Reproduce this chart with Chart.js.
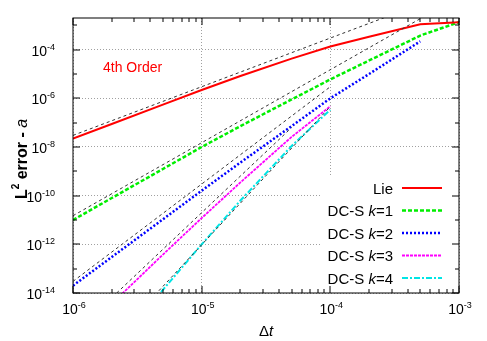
<!DOCTYPE html>
<html><head><meta charset="utf-8">
<script src="https://cdn.jsdelivr.net/npm/chart.js@4/dist/chart.umd.min.js"></script>
<style>html,body{margin:0;padding:0;background:#fff;overflow:hidden}canvas{display:block}</style>
</head><body>
<canvas id="c" width="487" height="341"></canvas>
<script>
// ---- data ----
const dt   = [1e-6, 2e-6, 5e-6, 1e-5, 2e-5, 5e-5, 1e-4, 2e-4, 5e-4, 1e-3];
const lie  = [2.2e-8, 8.8e-8, 5.5e-7, 2.2e-6, 8.3e-6, 4.3e-5, 1.35e-4, 3.4e-4, 1.1e-3, 1.35e-3];
const dcs1 = [1e-11, 8e-11, 1.25e-9, 1e-8, 7.2e-8, 9e-7, 6e-6, 3.6e-5, 3.8e-4, 1.35e-3];
const dcs2 = [2e-14, 3e-13, 1.07e-11, 1.6e-10, 2.3e-9, 7.2e-8, 1e-6, 1e-5, 2.2e-4, null];
const dcs3 = [1.1e-16, 3.6e-15, 3.8e-13, 1.2e-11, 3.5e-10, 2.6e-8, 4.7e-7, null, null, null];
const dcs4 = [1e-18, 6e-17, 1.35e-14, 1e-12, 6.3e-11, 1.1e-8, 3.4e-7, null, null, null];

// reference (order) lines: end points
const ref2X = [1e-6, 1e-3],  ref2Y = [3e-8, 3e-2];
const ref3X = [1e-6, 1e-3],  ref3Y = [1.5e-11, 1.5e-2];
const ref4X = [1e-6, 1e-4],  ref4Y = [3e-14, 3e-6];
const ref5X = [1e-6, 5e-5],  ref5Y = [2e-16, 6.25e-8];
const ref6X = [1e-6, 1e-4],  ref6Y = [2e-18, 4.6e-7];

const seriesNames = ['Lie', 'DC-S k=1', 'DC-S k=2', 'DC-S k=3', 'DC-S k=4'];
const xTicks = [1e-6, 1e-5, 1e-4, 1e-3];
const xTickExp = ['-6', '-5', '-4', '-3'];
const yTicks = [1e-14, 1e-12, 1e-10, 1e-8, 1e-6, 1e-4];
const yTickExp = ['-14', '-12', '-10', '-8', '-6', '-4'];
const yMinorTicks = [1e-13, 1e-11, 1e-9, 1e-7, 1e-5, 1e-3];
const xRange = [1e-6, 1e-3];
const yRange = [1e-14, 2e-3];

// ---- styles ----
const styles = [
  {color:'#ff0000', dash:[], width:2},
  {color:'#00ee00', dash:[4,2], width:2.5},
  {color:'#0000ff', dash:[2,2], width:2.5},
  {color:'#ff00ff', dash:[3,1], width:1.8},
  {color:'#00e5e5', dash:[6,2,2,2], width:2}
];
const FONT = '"Liberation Sans", Arial, Helvetica, sans-serif';

function pts(xs, ys){ return xs.map((x,i)=>({x:x, y:ys[i]})).filter(p=>p.y!=null); }
const seriesData = [lie, dcs1, dcs2, dcs3, dcs4];
const refs = [[ref2X,ref2Y],[ref3X,ref3Y],[ref4X,ref4Y],[ref5X,ref5Y],[ref6X,ref6Y]];

const datasets = [];
refs.forEach(r => datasets.push({
  data: pts(r[0], r[1]), borderColor:'#333', borderWidth:1, borderDash:[3,3],
  pointRadius:0, fill:false, tension:0
}));
seriesData.forEach((s,i) => datasets.push({
  label: seriesNames[i], data: pts(dt, s), borderColor: styles[i].color,
  borderWidth: styles[i].width, borderDash: styles[i].dash,
  pointRadius:0, fill:false, tension:0
}));

function powLabel(ctx, exp, x, y, align){
  const bf = '14px ' + FONT, ef = '9px ' + FONT;
  ctx.font = bf; const wb = ctx.measureText('10').width;
  ctx.font = ef; const we = ctx.measureText(exp).width;
  const x0 = align === 'right' ? x - wb - we : x - (wb + we) / 2;
  ctx.textAlign = 'left'; ctx.textBaseline = 'alphabetic'; ctx.fillStyle = '#000';
  ctx.font = bf; ctx.fillText('10', x0, y);
  ctx.font = ef; ctx.fillText(exp, x0 + wb, y - 6);
}
function richText(ctx, parts, x, y, align){
  let total = 0;
  parts.forEach(p => { ctx.font = p.f; p.w = ctx.measureText(p.t).width; total += p.w; });
  let cx = align === 'right' ? x - total : (align === 'center' ? x - total/2 : x);
  ctx.textAlign = 'left';
  parts.forEach(p => { ctx.font = p.f; ctx.fillText(p.t, cx, y + (p.dy||0)); cx += p.w; });
}

const gp = {
  id: 'gp',
  beforeDatasetsDraw(chart){
    const ctx = chart.ctx, a = chart.chartArea;
    ctx.save(); ctx.fillStyle = '#fff';
    ctx.fillRect(a.right - 137, 177, 136, a.bottom - 178);
    ctx.restore();
  },
  afterDatasetsDraw(chart){
    const ctx = chart.ctx, a = chart.chartArea, xs = chart.scales.x, ys = chart.scales.y;
    ctx.save();
    ctx.strokeStyle = '#000'; ctx.lineWidth = 1; ctx.setLineDash([]);
    ctx.beginPath();
    const tick = (x1,y1,x2,y2) => { ctx.moveTo(x1,y1); ctx.lineTo(x2,y2); };
    xTicks.forEach(v => { const p = Math.round(xs.getPixelForValue(v));
      tick(p, a.bottom, p, a.bottom - 7); tick(p, a.top, p, a.top + 7); });
    for (let d = 0; d < xTicks.length - 1; d++) for (let m = 2; m <= 9; m++) {
      const p = Math.round(xs.getPixelForValue(xTicks[d] * m));
      tick(p, a.bottom, p, a.bottom - 4); tick(p, a.top, p, a.top + 4);
    }
    yTicks.forEach(v => { const p = Math.round(ys.getPixelForValue(v));
      tick(a.left, p, a.left + 7, p); tick(a.right, p, a.right - 7, p); });
    yMinorTicks.forEach(v => { const p = Math.round(ys.getPixelForValue(v));
      tick(a.left, p, a.left + 4, p); tick(a.right, p, a.right - 4, p); });
    ctx.stroke();
    ctx.strokeRect(Math.round(a.left), Math.round(a.top), Math.round(a.right - a.left), Math.round(a.bottom - a.top));
    ctx.restore();
  },
  afterDraw(chart){
    const ctx = chart.ctx, a = chart.chartArea, xs = chart.scales.x, ys = chart.scales.y;
    ctx.save();
    ctx.fillStyle = '#000';
    xTicks.forEach((v,i) => powLabel(ctx, xTickExp[i], xs.getPixelForValue(v) + 1, a.bottom + 21, 'center'));
    yTicks.forEach((v,i) => powLabel(ctx, yTickExp[i], 55, ys.getPixelForValue(v) + 6, 'right'));
    ctx.fillStyle = '#000';
    richText(ctx, [{t:'\u0394', f:'15px ' + FONT}, {t:'t', f:'italic 15px ' + FONT}], 266, 336, 'center');
    ctx.save(); ctx.translate(27, 159); ctx.rotate(-Math.PI/2);
    richText(ctx, [{t:'L', f:'bold 16px ' + FONT}, {t:'2', f:'bold 10px ' + FONT, dy:-8},
      {t:' error - ', f:'bold 16px ' + FONT}, {t:'a', f:'italic 16px ' + FONT}], 0, 0, 'center');
    ctx.restore();
    ctx.fillStyle = '#ff0000'; ctx.font = '14px ' + FONT; ctx.textAlign = 'left';
    ctx.fillText('4th Order', 103, 72);
    const rows = [188, 210.5, 233, 255.5, 278];
    seriesNames.forEach((name, i) => {
      const y = rows[i];
      ctx.fillStyle = '#000';
      let parts;
      if (name.indexOf(' k=') >= 0) {
        const [pre, post] = name.split(' k');
        parts = [{t: pre + ' ', f:'15px ' + FONT}, {t:'k', f:'italic 15px ' + FONT}, {t: post, f:'15px ' + FONT}];
      } else parts = [{t:name, f:'15px ' + FONT}];
      richText(ctx, parts, 393, y + 5.5, 'right');
      ctx.strokeStyle = styles[i].color; ctx.lineWidth = styles[i].width; ctx.setLineDash(styles[i].dash);
      ctx.beginPath(); ctx.moveTo(402, y); ctx.lineTo(442, y); ctx.stroke();
    });
    ctx.restore();
  }
};

new Chart(document.getElementById('c'), {
  type: 'line',
  data: { datasets: datasets },
  options: {
    responsive: false, animation: false, devicePixelRatio: 1, events: [],
    layout: { padding: { left: 73, right: 28, top: 18, bottom: 48 } },
    plugins: { legend: { display: false }, tooltip: { enabled: false } },
    scales: {
      x: { type: 'logarithmic', min: xRange[0], max: xRange[1],
        afterBuildTicks: s => { s.ticks = xTicks.map(v => ({value: v})); },
        afterFit: s => { s.height = 0; },
        ticks: { display: false },
        grid: { color: '#a0a0a0', lineWidth: 1, drawTicks: false },
        border: { display: false, dash: [1, 2] } },
      y: { type: 'logarithmic', min: yRange[0], max: yRange[1],
        afterBuildTicks: s => { s.ticks = yTicks.map(v => ({value: v})); },
        afterFit: s => { s.width = 0; },
        ticks: { display: false },
        grid: { color: '#a0a0a0', lineWidth: 1, drawTicks: false },
        border: { display: false, dash: [1, 2] } }
    }
  },
  plugins: [gp]
});
</script>
</body></html>
